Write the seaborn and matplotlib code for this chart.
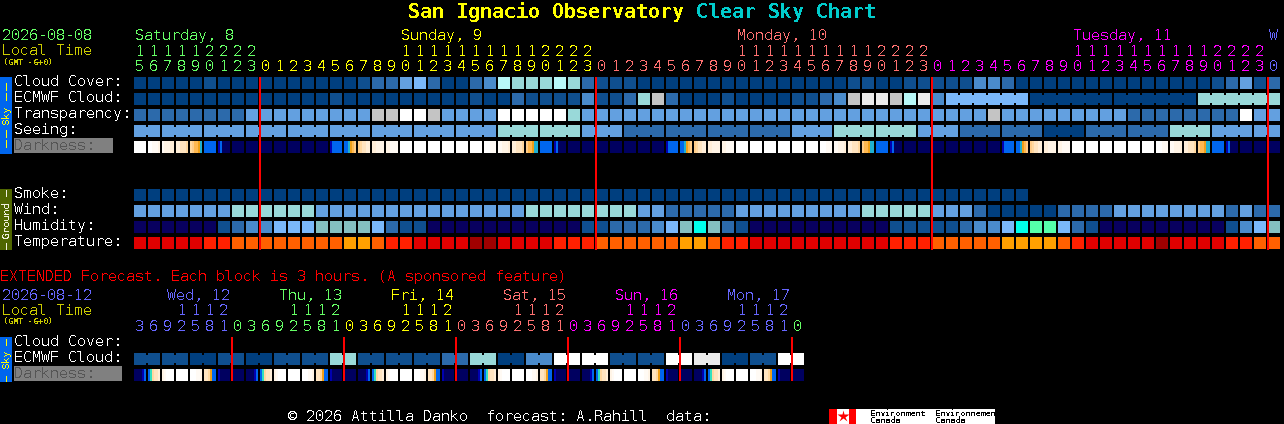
import numpy as np
import matplotlib
matplotlib.use("Agg")
import matplotlib.pyplot as plt
from matplotlib.colors import ListedColormap
from matplotlib.patches import Rectangle
import seaborn as sns

# ---------- data ----------
cloud_cover = "a"*5+"b"+"a"*10+"bcc"+"ef"+"c"+"aa"+"cd"+"hggghg"+"c"+"bbb"+"a"*15+"bb"+"aa"+"b"*5+"dd"+"c"+"a"*14+"bcebc"
ecmwf_cloud = "a"*14+"b"+"a"*9+"b"+"aa"+"c"+"b"*4+"d"+"bb"+"c"+"g"+"i"+"c"+"aaa"+"b"+"a"*4+"bb"+"c"+"d"+"i"+"jjihj"+"d"+"f"*6+"a"*12+"g"*6
transparency = "c"*8+"e"*9+"ii"+"kk"+"i"+"e"*4+"k"*5+"g"+"e"*29+"i"+"e"*9+"c"*8+"k"+"ee"
seeing = "e"*26+"g"*6+"e"*3+"c"*12+"e"*3+"g"*6+"e"*3+"c"*6+"a"*3+"c"*6+"g"*3+"e"*3+"e"*2
smoke = "a"*64+" "*18
wind = "e"*7+"g"*6+"e"*15+"g"*8+"ee"+"c"*5+"e"*9+"g"*5+"e"*3+"c"+"a"*5+"c"*4+"e"*8+"c"+"e"+"cc"
humidity = "n"*6+"bcdd"+"fff"+"xxxx"+"fc"+"bb"+"n"*11+"bb"+"ccc"+"dfxCxcb"+"n"*10+"b"*5+"c"+"dd"+"fCGGfcb"+"n"*9+"bdfx"
temperature = "R"*5+"SS"+"T"*8+"UU"+"T"+"SS"+"R"*4+"DD"+"R"*4+"SSS"+"T"*6+"UU"+"T"+"SS"+"R"*10+"SSS"+"T"*5+"U"*4+"T"+"S"+"R"*5+"D"+"R"*4+"SS"+"TT"
darkness = (["WWWWWW","WWvvvu","vuuutt","ttsssr","rqppoc","BBBBBB","dBmmmm"]+["mmmmmm"]*7+
            ["dBBBBB","BBcopq","qrsstt","ttuuuu","uuvvvv"]+["WWWWWW"]*6+
            ["WWWvvv","vvuuut","ttsssr","qppocc","BBBBBB","dBmmmm"]+["mmmmmm"]*7+
            ["dBBBBB","BBcopq","qrsstt","ttuuuu","uuvvvv"]+["WWWWWW"]*6+
            ["WWWvvv","vvuuut","ttsssr","qppocc","BBBBBB","dBmmmm"]+["mmmmmm"]*7+
            ["dBBBBB","BBcopq","qrsstt","ttuuuu","uuvvvv"]+["WWWWWW"]*6+
            ["WWWvvv","vvuuut","ttsssr","qppocc","BBBBBB","dBmmmm"]+["mmmmmm"]*3)
seeing_blocks = [2]+[3]*26+[2]
ecmwf_blocks = [1]*58+[6]*4
ext_ecmwf = "bbababbgbbbcgadkkbbkjabk"
ext_darkness = ["mmmmdB","Bgrsst","uvWWWW","WWWWWW","WWWvvu","ssroBB","dmmmmm","mmmmmm"]*6
hours = list(range(15,24))+list(range(24))*3+[0]
hour_days = [0]*9+[1]*24+[2]*24+[3]*24+[4]
ext_hours = [3,6,9,12,15,18,21]+[0,3,6,9,12,15,18,21]*5+[0]
ext_hour_days = [4]*7+[0]*8+[1]*8+[2]*8+[3]*8+[5]*8+[0]
midnights = [9,33,57,81]
ext_midnights = [7,15,23,31,39,47]
day_labels = [("Saturday, 8",0,0),("Sunday, 9",19,1),("Monday, 10",43,2),("Tuesday, 11",67,3),("W",81,4)]
ext_day_labels = [("Wed, 12",2.36,4),("Thu, 13",10.36,0),("Fri, 14",18.36,1),("Sat, 15",26.36,2),("Sun, 16",34.36,3),("Mon, 17",42.36,5)]

CELL_COLORS = {'a':'#003f7f','b':'#0f4f8f','c':'#2c6aab','d':'#4a8bcb','e':'#63a0e0','f':'#7ab8fa',
               'g':'#99d9d9','h':'#b8f8f8','i':'#c4c4c4','j':'#ebebeb','k':'#ffffff','n':'#08005f',
               'x':'#84c0c0','C':'#00ffea','G':'#55ffaa','R':'#e00000','S':'#ff2000','T':'#ff6000',
               'U':'#ffa000','D':'#a00000'}
DARK_COLORS = {'W':'#ffffff','v':'#fffaf4','u':'#fff4e6','t':'#ffeed8','s':'#ffe4c0','r':'#ffd8a0',
               'q':'#ffcc88','p':'#ffb850','o':'#f0a018','g':'#30e0c0','c':'#20b0d0','B':'#0066ee',
               'd':'#0000b0','m':'#000060'}
DAY_COLORS = ['#66ff66','#ffff00','#ff7070','#ff00ff','#6666ff','#6666ff']

# ---------- layout ----------
W, H = 1284, 424
X0, PITCH, CH = 134, 14, 12
sns.set_style("dark")
plt.rcParams['font.family'] = ['DejaVu Sans Mono']
plt.rcParams['text.antialiased'] = False
plt.rcParams['text.hinting'] = 'native'
plt.rcParams['text.hinting_factor'] = 1
fig = plt.figure(figsize=(W/100, H/100), dpi=100, facecolor='black')
PX = 72/100

def px_axes(x, y, w, h, z=1):
    ax = fig.add_axes([x/W, 1-(y+h)/H, w/W, h/H], zorder=z)
    ax.patch.set_visible(False)
    return ax

cell_keys = list(CELL_COLORS)
cell_cmap = ListedColormap([CELL_COLORS[k] for k in cell_keys])
dark_keys = list(DARK_COLORS)
dark_cmap = ListedColormap([DARK_COLORS[k] for k in dark_keys])

def cell_row(codes, top, blocks=None):
    vals = np.array([[cell_keys.index(c) if c != ' ' else np.nan for c in codes]], dtype=float)
    ax = px_axes(X0-1, top-1, PITCH*len(codes), CH+2)
    sns.heatmap(vals, ax=ax, cmap=cell_cmap, vmin=-.5, vmax=len(cell_keys)-.5, cbar=False,
                linewidths=2*PX, linecolor='black', xticklabels=False, yticklabels=False,
                antialiased=False)
    ax.set_axis_off()
    if blocks:
        pos = 0
        for b in blocks:
            for j in range(pos+1, pos+b):
                ax.vlines(j, .5-4/14, .5+4/14, colors=CELL_COLORS[codes[j]], linewidth=2.2*PX, antialiased=False)
            pos += b

def dark_row(cells, top):
    vals = []
    for c in cells:
        vals += [dark_keys.index(k) for k in c]+[np.nan]
    ax = px_axes(X0, top, PITCH*len(cells), CH)
    sns.heatmap(np.array([vals], dtype=float), ax=ax, cmap=dark_cmap, vmin=-.5, vmax=len(dark_keys)-.5,
                cbar=False, xticklabels=False, yticklabels=False, antialiased=False)
    ax.set_axis_off()

cell_row(cloud_cover, 77)
cell_row(ecmwf_cloud, 93, ecmwf_blocks)
cell_row(transparency, 109)
cell_row(seeing, 125, seeing_blocks)
dark_row(darkness, 141)
cell_row(smoke, 189)
cell_row(wind, 205)
cell_row(humidity, 221)
cell_row(temperature, 237)
cell_row(''.join(c*2 for c in ext_ecmwf), 353, [2]*24)
dark_row(ext_darkness, 369)

# ---------- overlay: text, strips, red lines ----------
ov = px_axes(0, 0, W, H, z=5)
ov.set_xlim(0, W); ov.set_ylim(H, 0); ov.set_axis_off()
FS = 10.8

def t(x, y, s, c='white', fs=FS, **kw):
    kw.setdefault('ha', 'left'); kw.setdefault('va', 'baseline')
    ov.text(x, y, s, color=c, fontsize=fs, **kw)

# title
t(408, 18, "San Ignacio Observatory", '#ffff00', 14.4, fontweight='bold')
t(696, 18, "Clear Sky Chart", '#00cccc', 14.4, fontweight='bold')
# header
LT = '#cccc00'
t(2, 40, "2026-08-08", '#66ff66'); t(2, 55, "Local Time", LT); t(3, 65, "(GMT -6+0)", LT, 5.7)
for s, col, d in day_labels:
    t(X0+1+PITCH*col, 40, s, DAY_COLORS[d])
def hour_row(hh, dd, tens_y, ones_y):
    for i, (h, d) in enumerate(zip(hh, dd)):
        xc = X0+6+PITCH*i
        if h >= 10:
            t(xc, tens_y, str(h)[0], DAY_COLORS[d], ha='center')
        t(xc, ones_y, str(h)[-1], DAY_COLORS[d], ha='center')
hour_row(hours, hour_days, 56, 71)
# row labels
for y, s in [(86,"Cloud Cover:"),(102,"ECMWF Cloud:"),(118,"Transparency:"),(134,"Seeing:"),
             (198,"Smoke:"),(214,"Wind:"),(230,"Humidity:"),(246,"Temperature:")]:
    t(14, y, s)
ov.add_patch(Rectangle((14,138),99,15,fc='#808080',ec='none'))
t(14, 150, "Darkness:", '#555555')
# extended
t(0, 281, "EXTENDED Forecast. Each block is 3 hours. (A sponsored feature)", '#ff0000')
t(2, 300, "2026-08-12", '#6666ff'); t(2, 315, "Local Time", LT); t(3, 324, "(GMT -6+0)", LT, 5.7)
for s, col, d in ext_day_labels:
    t(X0+PITCH*col, 300, s, DAY_COLORS[d])
hour_row(ext_hours, ext_hour_days, 315, 331)
t(14, 346, "Cloud Cover:"); t(14, 362, "ECMWF Cloud:")
ov.add_patch(Rectangle((14,366),108,15,fc='#808080',ec='none'))
t(14, 378, "Darkness:", '#555555')
# side strips
def strip(y0, y1, fc, label, c, dashes):
    ov.add_patch(Rectangle((0,y0),12,y1-y0,fc=fc,ec='none'))
    t(6, (y0+y1)/2, label, c, 7.5, rotation=90, ha='center', va='center', rotation_mode='anchor')
    for a, b in dashes:
        ov.vlines(5.5, a, b, colors=c, linewidth=PX, antialiased=False)
strip(77, 154, '#0066ee', "Sky", '#ffff00', [(83,90),(93,100),(130,137),(140,147)])
strip(189, 250, '#4f6600', "Ground", '#f0f0e0', [(190,196),(243,249)])
strip(337, 382, '#0066ee', "Sky", '#ffff00', [(339,345),(376,381)])
# red lines
for i in midnights:
    ov.vlines(X0+PITCH*i, 77, 250, colors='#ff0000', linewidth=2*PX, antialiased=False)
for i in ext_midnights:
    ov.vlines(X0+PITCH*i, 337, 381, colors='#ff0000', linewidth=2*PX, antialiased=False)
# footer
t(288, 421, "\u00a9 2026 Attilla Danko  forecast: A.Rahill  data:")
ov.add_patch(Rectangle((829,409),166,15,fc='white',ec='none'))
ov.add_patch(Rectangle((829,409),8,15,fc='#ff0000',ec='none'))
ov.add_patch(Rectangle((849,409),7,15,fc='#ff0000',ec='none'))
ov.plot([843],[416],marker='*',ms=9,color='#ff0000',mec='none')
for x, s in [(870,"Environment"),(935,"Environnement")]:
    t(x, 416, s, 'black', 5.5)
    t(x, 423, "Canada", 'black', 5.5)

fig.savefig("out.png", dpi=100, facecolor='black')
